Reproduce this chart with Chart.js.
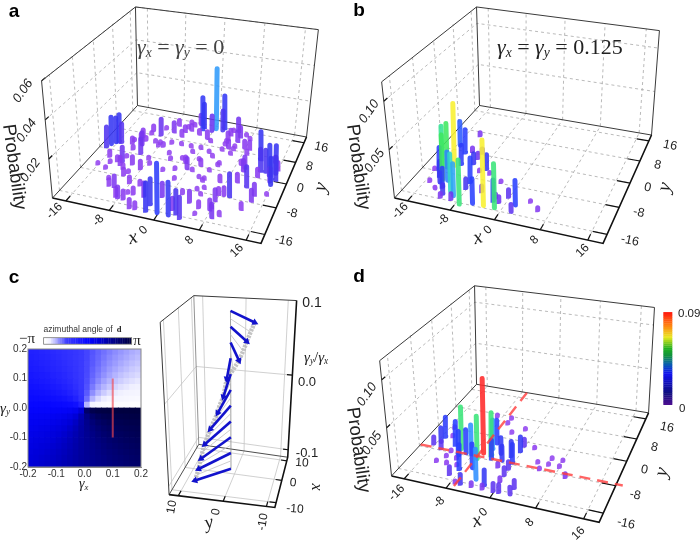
<!DOCTYPE html>
<html>
<head>
<meta charset="utf-8">
<script src="https://cdn.jsdelivr.net/npm/chart.js@4"></script>
<style>
html, body { margin: 0; background: #fff; }
#wrap { position: relative; width: 700px; height: 542px; overflow: hidden; }
canvas { position: absolute; }
</style>
</head>
<body>
<div id="wrap">
<canvas id="main" width="700" height="542" style="left:0;top:0"></canvas>
<canvas id="heat" width="160" height="165" style="left:0;top:335px"></canvas>
</div>
<script>
// tick values
const xyTicks = [-16, -8, 0, 8, 16];
const zTicksA = [0.02, 0.04, 0.06];
const zTicksB = [0.05, 0.10];
const cTicks = [-10, 0, 10];

// bars: [x, y, probability in thousandths]
const barsA = [
  [-17,0,13],[-16.5,1,17.4],[-16,2,16],[-15.5,2.5,17.4],[-15,2.5,12.4],[-16,-6,2],[-15,-3,5],[-14,-7,2.5],[-14,-5,3],[-13,-4,4.3],
  [-12,-5,6],[-12,-4,10],[-12,-2,2.5],[-12,1,3.7],[-13,4,3],[-12,5,5],[-12,6,6],[-10,0,10],[-11,5,3.7],[-11,8,2],
  [-11,9,5],[-9,8,11],[-9,5,3],[-8,5,2.5],[-8,4,2.5],[-9,11,2],[-7,10,7.5],[-7,13,5],[-5,9,5],[-5,11,5],
  [-5,13,2],[-5,15,2],[-4,12,5],[-4,14,3],[-3,15,7.5],[-2,13,20.5],[-2,14,15.5],[0,13,11],[0.6,14,37],[2,14,13.6],
  [2,15,21],[0,10,6],[-2,11,4.3],[1,9,3],[4,11,6],[4,13,5],[4,15,2],[6,11,7.5],[5,15,9.3],[6,13,7.5],
  [7,14,2.5],[8,9,6],[8,13,2],[4,9,2.5],[4,10,3],[9,9,6],[12,6,17],[13,2,13.6],[15,1,18],[16,2,17],
  [14,2,13.6],[15.6,-1,9.3],[15,6,5],[12,-4,12.4],[10,1,7.5],[14,-6,7.5],[13,0,6],[14,-8,7.5],[16,-5,2],[10,-8,13.6],
  [13,-11,5],[9,-8,6],[8,-8,5],[8,-10,7.5],[10,-14,3.7],[8,-12,2],[9,-15,8.7],[6,-13,5],[6,-15,2.5],[4,-12,7.5],
  [4,-17,12.4],[2,-15,7.5],[2,-10,3.7],[2,-17,18.6],[3,-16,13.6],[0,-17,27],[-2,-15,15],[-1,-12,8.7],[-2,-17,16],[-4,-13,8.7],
  [-4,-17,5],[-6,-13,5],[-8,-10,5],[-10,-8,5],[-8,-15,7.5],[-10,-12,7.5],[-12,-10,2.5],[-7,-13,2.5],[-10,-4,6],[-8,-5,6],
  [-8,-1,2],[-7,4,3.7],[-6,6,2],[-4,6,2.5],[-2,6,2],[-5,2,2.5],[-2,1,2.5],[-1,4,2.5],[1,2,2],[2,5,3],
  [0,6,2.5],[5,2,2],[4,-1,2],[4,-4,2],[1,-2,2],[-2,-3,3],[-4,-4,2.5],[-1,-6,2.5],[0,-2,7.5],[6,6,2.5],
  [6,8,2],[9,7,3.7],[6,9,2],[4,7,2],[3,4,2],[3,-4,2.5],[5,-7,2.5],[4,-8,3],[5,-9,2],
  [-11,-12,5],[-8.5,-14.7,6],[-7,-15,6],[-5,-17,6],[-11,-6,4],[-9.5,-7,3],[-11,3,9],[-13,3,5],[-6,-10,4],[-7,-3,3],
  [-4,0,3],[-1,0,5],[2,0,5],[5,1,3],[5,8,6],[4,-5,3],[7,-4,5],[10,2,8],[9,3,4],[10,-3,6],
  [8,-13,7],[16,3.6,6],[16.4,0,14],[16,-2,16]
];
const barsB = [
  [-13,-6,72],[-14,-7,52],[-15,-7,48],[-13,-11,52],[-15,1,32],[-13,-1,30],[-15,-8,28],[-14,-10,20],[-13,-12,15],[-12,-11,35],
  [-10,-14,44],[-9,-15,38],[-7,-17,50],[-3,-16,72],[-1,-16,50],[-5,-16,30],[-2,-14,26],[2,-14,30],[-8,-10,30],[-12,-5,25],
  [-12,-13,24],[-13,6,8],[-12,0,8],[-10,-2,10],[-10,0,9],[-10,-4,15],[-7,-5,20],[-8,-6,5],[-6,-6,4],[-3,-8,5],
  [4,-12,5],[6,-14,7],[-16,-8,4],[-15,-12,5],[-13,-14,6],[-11,-16,8],[-9,-16,10],[-11,-15,14],[-8,-12,14],[0,-12,12],
  [-1,-14,10],[2,-16,12],[-5,-12,10],[-2,-13,8]
];
const barsD = [
  [-6,-7,85],[-10.4,-7,50],[-6.4,-9,50],[-4.4,-7,50],[-15,-4,26],[-15,-6,20],[-16,-7,12],[-12,-6,30],[-10,-9,30],[-9,-8,30],
  [-8,-8,36],[-8,-13,30],[-6,-12,30],[-4,-15,36],[-2,-16,20],[-5,-5,36],[-5,-3,30],[-3,-6,22],[-4,-8,24],[-2,-8,20],
  [-1,-6,20],[0,-8,24],[0,-10,12],[0,-4,20],[0,-2,12],[-14,-8,12],[-15,0,3],[-9,7,3],[-6,5,3],[-6,7,3],
  [-2,4,3],[-4,2,3],[2,-2,5],[-14,-3,3],[-12,-8,4],[-13,-12,5],[-12,-10,5],[-10,-10,5],[-11,-12,5],[-9,-12,5],
  [-9,-15,12],[-7,-17,6],[-6,-17,14],[-4,-17,8],[-2,-17,8],[0,-17,12],[1,-17,12],[0,-14,8],[3,-17,12],[3,-15,12],
  [0,-12,12],[-2,-10,8],[4,-6,3],[5,-8,4],[6,-6,3],[6,-4,3],[8,-4,3],[8,-6,3],[10,-9,8]
];

// panel c: ratio gamma_y/gamma_x and the in-plane vector at each ratio
const ratios = [0.10,0.09,0.08,0.07,0.06,0.05,0.04,0.03,0.02,0.01,0,-0.01,-0.02,-0.03,-0.04,-0.05,-0.06,-0.07,-0.08,-0.09,-0.10];
const vecX = [-8.1,-9,-9.8,-10.6,-11.3,-11.9,-12.4,-12.7,-13,-12.9,-12.8,-12.75,-12.7,-12.5,-12.2,-11.8,-11.3,-10,-8.8,-7.9,-7];
const vecY = [-6.87,-6.2,-5.6,-5,-4.3,-3.2,-2,-1.7,-1.4,-0.6,-0.13,0.7,1.5,2.2,2.9,3.5,4,4.7,5.3,6,6.7];
const originX = -1.4, originY = 0.55;

// heat map: azimuth in degrees (0-360), rows from top, cols from left
const gammaCells = [-0.19,-0.17,-0.15,-0.13,-0.11,-0.09,-0.07,-0.05,-0.03,-0.01,0.01,0.03,0.05,0.07,0.09,0.11,0.13,0.15,0.17,0.19];
const azimuth = [
  [135,132,128,124,120,115,110,105,99,93,87,81,75,70,65,60,56,52,48,45],
  [138,135,131,127,123,118,112,106,100,93,87,80,74,68,62,57,53,49,45,42],
  [142,139,135,131,126,121,115,108,101,94,86,79,72,65,59,54,49,45,41,38],
  [146,143,139,135,130,125,118,111,103,94,86,77,69,62,55,50,45,41,37,34],
  [150,147,144,140,135,129,122,114,105,95,85,75,66,58,51,45,40,36,33,30],
  [155,152,149,145,141,135,128,119,108,96,84,72,61,52,45,39,35,31,28,25],
  [160,158,155,152,148,142,135,126,113,98,82,67,54,45,38,32,28,25,22,20],
  [165,164,162,159,156,151,144,135,121,101,79,59,45,36,29,24,21,18,16,15],
  [171,170,169,167,165,162,157,149,135,108,72,45,31,23,18,15,13,11,10,9],
  [177,177,176,176,175,174,172,169,162,135,45,18,11,8,6,5,4,4,3,3],
  [183,183,184,184,185,186,188,191,198,225,315,342,349,352,354,355,356,356,357,357],
  [189,190,191,193,195,198,203,211,225,252,288,315,329,337,342,345,347,349,350,351],
  [195,196,198,201,204,209,216,225,239,259,281,301,315,324,331,336,339,342,344,345],
  [200,202,205,208,212,218,225,234,247,262,278,293,306,315,322,328,332,335,338,340],
  [205,208,211,215,219,225,232,241,252,264,276,288,299,308,315,321,325,329,332,335],
  [210,213,216,220,225,231,238,246,255,265,275,285,294,302,309,315,320,324,327,330],
  [214,217,221,225,230,235,242,249,257,266,274,283,291,298,305,310,315,319,323,326],
  [218,221,225,229,234,239,245,252,259,266,274,281,288,295,301,306,311,315,319,322],
  [222,225,229,233,237,242,248,254,260,267,273,280,286,292,298,303,307,311,315,318],
  [225,228,232,236,240,245,250,255,261,267,273,279,285,290,295,300,304,308,312,315]
];
const cutGamma = [0.1, -0.1];
const dashX = -7, dashY = -7.5;

// colour maps
const barStops = [[0,'#9a4bf0'],[0.006,'#8a3cf0'],[0.011,'#6a35f0'],[0.015,'#3a35f0'],[0.03,'#2a40ff'],[0.036,'#3090ff'],[0.042,'#30d0e0'],[0.047,'#30e0a0'],[0.052,'#40e860'],[0.062,'#b0f040'],[0.072,'#f8f030'],[0.078,'#ff8030'],[0.082,'#ff3030'],[0.09,'#ff2020']];
const barScaleStops = [[0,'#4a0f90'],[0.12,'#100f80'],[0.33,'#1010f0'],[0.43,'#0a60b0'],[0.52,'#109040'],[0.6,'#20b020'],[0.72,'#e8e820'],[0.85,'#ff8010'],[1,'#ff1010']];
const azimuthStops = [[0,'#ffffff'],[0.06,'#f0f0ff'],[0.125,'#b4b4ff'],[0.25,'#3c3cff'],[0.5,'#0505ff'],[0.625,'#0000d8'],[0.75,'#000098'],[0.875,'#000068'],[1,'#00003c']];

function hexRgb(h) { return [1, 3, 5].map(i => parseInt(h.substr(i, 2), 16)); }
function colorAt(stops, v, alpha) {
  let i = 0;
  while (i < stops.length - 2 && v > stops[i + 1][0]) i++;
  const a = stops[i], b = stops[i + 1];
  const t = Math.max(0, Math.min(1, (v - a[0]) / (b[0] - a[0])));
  const ca = hexRgb(a[1]), cb = hexRgb(b[1]);
  const c = ca.map((q, k) => Math.round(q + (cb[k] - q) * t));
  return `rgba(${c[0]},${c[1]},${c[2]},${alpha === undefined ? 1 : alpha})`;
}

// floor homography + bilinear vertical lift, built from the corners of each box
function makeView(c, tops, zMin, zMax, toUV) {
  const [[x0, y0], [x1, y1], [x2, y2], [x3, y3]] = c;
  const sx = x0 - x1 + x2 - x3, sy = y0 - y1 + y2 - y3;
  const dx1 = x1 - x2, dx2 = x3 - x2, dy1 = y1 - y2, dy2 = y3 - y2;
  const den = dx1 * dy2 - dx2 * dy1;
  const g = (sx * dy2 - dx2 * sy) / den, h = (dx1 * sy - sx * dy1) / den;
  const a = x1 - x0 + g * x1, b = x3 - x0 + h * x3, d = y1 - y0 + g * y1, e = y3 - y0 + h * y3;
  const l0 = [tops[0][0] - x0, tops[0][1] - y0];
  const l3 = [tops[1][0] - x3, tops[1][1] - y3];
  const l2 = [tops[2][0] - x2, tops[2][1] - y2];
  const l1 = [l0[0] + l2[0] - l3[0], l0[1] + l2[1] - l3[1]];
  return function (x, y, z) {
    const [u, v] = toUV(x, y);
    const w = g * u + h * v + 1;
    const f = (z - zMin) / (zMax - zMin);
    const lx = (1 - u) * (1 - v) * l0[0] + u * (1 - v) * l1[0] + u * v * l2[0] + (1 - u) * v * l3[0];
    const ly = (1 - u) * (1 - v) * l0[1] + u * (1 - v) * l1[1] + u * v * l2[1] + (1 - u) * v * l3[1];
    return { x: (a * u + b * v + x0) / w + lx * f, y: (d * u + e * v + y0) / w + ly * f };
  };
}

const LIM = 18.5;
const uvBar = (x, y) => [(x + LIM) / (2 * LIM), (y + LIM) / (2 * LIM)];
const viewA = makeView([[49,197],[260,243],[306,135],[135,103]], [[38,78],[133,3],[318,26]], 0, 0.06, uvBar);
const viewB = makeView([[395,197],[606,243],[655,133],[481,103]], [[382,79],[478,3],[663,27]], 0, 0.12, uvBar);
const viewD = makeView([[392,479],[602,526],[652,415],[478,386]], [[380,362],[476,286],[658,308]], 0, 0.12, uvBar);
const viewC = makeView([[167,498],[274,511],[287,460],[197,447]], [[158,323],[192,296],[296,301]], -0.11, 0.1, (x, y) => [(12 - y) / 24, (x + 12) / 24]);

const datasets = [];
const labels = [];
function line(points, color, width, extra) {
  datasets.push(Object.assign({ type: 'line', data: points, borderColor: color, borderWidth: width, pointRadius: 0, fill: false, tension: 0 }, extra || {}));
}
function label(t, x, y, rot, font, color, align) {
  labels.push({ t, x, y, rot: rot || 0, font, color: color || '#222', align: align || 'center' });
}

const GRID = '#a8a8a8', EDGE = '#3a3a3a', INK = '#111';
const dash = { borderDash: [3, 3] };
const BAR_W = 5;

function drawBox(v, zMax, zTicks, bars, off) {
  const L = LIM;
  xyTicks.forEach(t => {
    line([v(t, -L, 0), v(t, L, 0)], GRID, 0.8, dash);
    line([v(-L, t, 0), v(L, t, 0)], GRID, 0.8, dash);
    line([v(t, L, 0), v(t, L, zMax)], GRID, 0.8, dash);
    line([v(-L, t, 0), v(-L, t, zMax)], GRID, 0.8, dash);
    line([v(t, -L, 0), v(t, -L + 1.6, 0)], INK, 1.2);
    line([v(L, t, 0), v(L - 2.4, t, 0)], INK, 1.2);
  });
  zTicks.forEach(z => {
    line([v(-L, -L, z), v(-L, L, z), v(L, L, z)], GRID, 0.8, dash);
    line([v(-L, -L, z), v(-L, -L + 1.2, z)], INK, 1.2);
  });
  line([v(-L, -L, 0), v(-L, L, 0), v(L, L, 0)], EDGE, 1);
  line([v(-L, L, 0), v(-L, L, zMax)], EDGE, 1);
  line([v(L, L, 0), v(L, L, zMax), v(-L, L, zMax), v(-L, -L, zMax), v(-L, -L, 0)], EDGE, 1);
  line([v(-L, -L, 0), v(L, -L, 0), v(L, L, 0)], INK, 1.6);

  bars.slice().sort((p, q) => (q[1] - q[0]) - (p[1] - p[0])).forEach(b => {
    const p = b[2] / 1000;
    const foot = v(b[0], b[1], 0), head = v(b[0], b[1], p);
    // bars stand almost upright, and the round caps add half a width at each end
    const len = foot.y - head.y;
    const lean = (head.x - foot.x) * 0.35;
    const cut = Math.min(BAR_W / 2, (len - 0.6) / 2);
    const t = cut / len;
    const p0 = { x: foot.x + lean * t, y: foot.y - len * t };
    const p1 = { x: foot.x + lean * (1 - t), y: head.y + len * t };
    line([p0, p1], colorAt(barStops, p, 0.88), BAR_W, { borderCapStyle: 'round' });
  });

  xyTicks.forEach(t => {
    const a = v(t, -L, 0), b = v(L, t, 0);
    label(String(t), a.x - 8, a.y + 11, -45, '12px "Liberation Sans"');
    label(String(t), b.x + 11, b.y + 5, 12, '12.5px "Liberation Sans"', '#222', 'left');
  });
  zTicks.forEach(z => {
    const a = v(-L, -L, z);
    label(z === 0.1 ? '0.10' : String(z), a.x - 15, a.y + 13, -55, 'italic 13px "Liberation Sans"');
  });
  label('Probability', off.px, off.py, 82, '18.5px "Liberation Sans"');
  label('x', off.xx, off.xy, -15, 'italic 20px "Liberation Serif"');
  label('y', off.yx, off.yy, -75, 'italic 20px "Liberation Serif"');
}

drawBox(viewA, 0.06, zTicksA, barsA, { px: 14, py: 167, xx: 133, xy: 238, yx: 321, yy: 187 });
drawBox(viewB, 0.12, zTicksB, barsB, { px: 358, py: 167, xx: 478, xy: 238, yx: 665, yy: 187 });
drawBox(viewD, 0.12, zTicksB, barsD, { px: 358, py: 450, xx: 477, xy: 521, yx: 662, yy: 472 });

// red guide lines of panel d
const redDash = { borderDash: [11, 7] };
line([viewD(-LIM, dashY, 0), viewD(LIM + 1.1, dashY, 0)], 'rgba(255,60,60,0.8)', 2.4, redDash);
line([viewD(dashX, -LIM + 1, 0), viewD(dashX, LIM, 0)], 'rgba(255,60,60,0.8)', 2.4, redDash);

// panel d colour bar
const barScale = [0,0.02,0.04,0.06,0.08,0.1,0.12,0.14,0.16,0.18,0.2,0.22,0.24,0.26,0.28,0.3,0.32,0.34,0.36,0.38,0.4,0.42,0.44,0.46,0.48,0.5,0.52,0.54,0.56,0.58,0.6,0.62,0.64,0.66,0.68,0.7,0.72,0.74,0.76,0.78,0.8,0.82,0.84,0.86,0.88,0.9,0.92,0.94,0.96,0.98];
barScale.forEach(f => {
  const yA = 407 - f * 94;
  line([{ x: 671.5, y: yA }, { x: 671.5, y: yA - 2.2 }], colorAt(barScaleStops, f), 9, { borderCapStyle: 'butt' });
});
label('0.09', 678, 314, 0, '11.5px "Liberation Sans"', '#222', 'left');
label('0', 679, 409, 0, '11.5px "Liberation Sans"', '#222', 'left');

// azimuth colour bar above the heat map
barScale.forEach(f => {
  const xA = 40.5 + f * 88;
  line([{ x: xA, y: 342 }, { x: xA + 2.1, y: 342 }], colorAt(azimuthStops, f), 6, { borderCapStyle: 'butt' });
});
line([{x:40,y:338.6},{x:129,y:338.6},{x:129,y:345.4},{x:40,y:345.4},{x:40,y:338.6}], '#777', 0.8);

// panel c box
(function () {
  const v = viewC, gray = '#c4c4c4', zb = -0.11, zt = 0.1, m = 12;
  cTicks.forEach(t => {
    line([v(t, -m, zb), v(t, m, zb)], gray, 0.8);
    line([v(-m, t, zb), v(m, t, zb)], gray, 0.8);
    line([v(t, m, zb), v(t, m, zt)], gray, 0.8);
    line([v(m, t, zb), v(m, t, zt)], gray, 0.8);
    line([v(t, -m, zb), v(t, -m + 1.6, zb)], INK, 1.2);
    line([v(-m, t, zb), v(-m + 2, t, zb)], INK, 1.2);
  });
  [0, -0.1].forEach(z => {
    line([v(-m, m, z), v(m, m, z), v(m, -m, z)], gray, 0.8);
    line([v(m, -m, z), v(m, -m + 1.4, z)], INK, 1.2);
  });
  line([v(-m, m, zb), v(m, m, zb), v(m, -m, zb)], EDGE, 0.9);
  line([v(m, m, zb), v(m, m, zt)], '#777', 0.8);
  line([v(-m, m, zb), v(-m, m, zt), v(m, m, zt), v(m, -m, zt)], EDGE, 1);
  line([v(-m, m, zb), v(-m, -m, zb), v(m, -m, zb), v(m, -m, zt)], INK, 1.6);
  line([v(originX, originY, 0.1), v(originX, originY, -0.1)], '#8a8a8a', 0.8);

  ratios.forEach((r, i) => line([v(originX, originY, r), v(originX + vecX[i], originY + vecY[i], r)], '#c8c8c8', 0.9));
  line(ratios.map((r, i) => v(originX + vecX[i], originY + vecY[i], r)), 'rgba(185,185,185,0.85)', 4.4, { borderDash: [2.5, 1], borderCapStyle: 'butt' });
  ratios.forEach((r, i) => {
    if (i % 2) return;
    const a = v(originX, originY, r), b = v(originX + vecX[i], originY + vecY[i], r);
    const ang = Math.atan2(b.x - a.x, a.y - b.y) * 180 / Math.PI;
    line([a, b], '#1212cc', 2.6, {
      pointRadius: [0, 4], pointStyle: 'triangle', pointRotation: [0, ang],
      pointBackgroundColor: '#1212cc', pointBorderWidth: 0
    });
  });

  const s = '13px "Liberation Sans"';
  label('0.1', 312, 303, 0, '14px "Liberation Sans"');
  label('0.0', 307, 382, 0, s);
  label('-0.1', 307, 453, 0, s);
  const k = '12px "Liberation Sans"';
  label('10', 302, 463, 4, k);
  label('0', 293, 483, 4, k);
  label('-10', 295, 509, 4, k);
  label('10', 172, 507, -80, k);
  label('0', 216, 512, -80, k);
  label('-10', 263, 522, -80, k);
  label('x', 316, 487, 90, 'italic 16px "Liberation Serif"');
  label('y', 209, 523, -15, 'italic 19px "Liberation Serif"');
})();

// plain labels
const bold = 'bold 19px "Liberation Sans"';
label('a', 14, 12, 0, bold, '#000');
label('b', 359, 11, 0, bold, '#000');
label('c', 14, 278, 0, bold, '#000');
label('d', 359, 277, 0, bold, '#000');
label('azimuthal angle of', 78, 330, 0, '8.5px "Liberation Sans"', '#333');
label('d', 119, 330, 0, 'bold 8.5px "Liberation Serif"', '#222');
label('\u2212\u03c0', 27, 339, 0, '15px "Liberation Serif"');
label('\u03c0', 137, 341, 0, '15px "Liberation Serif"');

// math strings, each piece: [text, kind]
const mathText = [
  { x: 137, y: 48, size: 22, color: '#444', parts: [['\u03b3','i'],['x','s'],[' = ','r'],['\u03b3','i'],['y','s'],[' = 0','r']] },
  { x: 497, y: 48, size: 22, color: '#222', parts: [['\u03b3','i'],['x','s'],[' = ','r'],['\u03b3','i'],['y','s'],[' = 0.125','r']] },
  { x: 304, y: 358, size: 15, color: '#222', parts: [['\u03b3','i'],['y','s'],['/','r'],['\u03b3','i'],['x','s']] },
  { x: 0, y: 409, size: 15, color: '#222', parts: [['\u03b3','i'],['y','s']] },
  { x: 79, y: 484, size: 14, color: '#222', parts: [['\u03b3','i'],['x','s']] }
];

const textPlugin = {
  id: 'texts',
  afterDatasetsDraw(chart) {
    const ctx = chart.ctx;
    ctx.save();
    ctx.textBaseline = 'middle';
    labels.forEach(l => {
      ctx.save();
      ctx.translate(l.x, l.y);
      ctx.rotate(l.rot * Math.PI / 180);
      ctx.font = l.font;
      ctx.fillStyle = l.color;
      ctx.textAlign = l.align;
      ctx.fillText(l.t, 0, 0);
      ctx.restore();
    });
    ctx.textAlign = 'left';
    mathText.forEach(m => {
      let x = m.x;
      ctx.fillStyle = m.color;
      m.parts.forEach(p => {
        const size = p[1] === 's' ? m.size * 0.62 : m.size;
        ctx.font = (p[1] === 'r' ? '' : 'italic ') + size + 'px "Liberation Serif"';
        ctx.fillText(p[0], x, p[1] === 's' ? m.y + m.size * 0.25 : m.y);
        x += ctx.measureText(p[0]).width;
      });
    });
    ctx.restore();
  }
};

// chart.js paints the first dataset last, so flip the painter's order
datasets.reverse();

new Chart(document.getElementById('main'), {
  type: 'scatter',
  data: { datasets },
  options: {
    responsive: false, animation: false, events: [],
    layout: { padding: 0 },
    plugins: { legend: { display: false }, tooltip: { enabled: false } },
    scales: {
      x: { type: 'linear', display: false, min: 0, max: 700 },
      y: { type: 'linear', display: false, min: 0, max: 542, reverse: true }
    }
  },
  plugins: [textPlugin]
});

// heat map on its own real axes
const heatPoints = [], heatColors = [];
azimuth.forEach((row, r) => row.forEach((a, c) => {
  heatPoints.push({ x: gammaCells[c], y: gammaCells[gammaCells.length - 1 - r] });
  heatColors.push(colorAt(azimuthStops, a / 360));
}));
const tickFont = { family: 'Liberation Sans', size: 10 };
new Chart(document.getElementById('heat'), {
  type: 'scatter',
  data: {
    datasets: [
      { type: 'line', data: cutGamma.map(g => ({ x: 0.1, y: g })), borderColor: 'rgba(240,70,80,0.65)', borderWidth: 2, pointRadius: 0 },
      { data: heatPoints, pointStyle: 'rect', pointRadius: 4.7, pointBorderWidth: 0, pointBackgroundColor: heatColors, clip: 0 }
    ]
  },
  options: {
    responsive: false, animation: false, events: [],
    layout: { padding: { top: 14, right: 19, left: 0, bottom: 0 } },
    plugins: { legend: { display: false }, tooltip: { enabled: false } },
    scales: {
      x: {
        type: 'linear', min: -0.2, max: 0.2, grid: { display: false, drawTicks: false }, border: { color: '#888' },
        ticks: { stepSize: 0.1, padding: 1, font: tickFont, color: '#333', maxRotation: 0, callback: v => v.toFixed(1) },
        afterFit(s) { s.height = 33; }
      },
      y: {
        type: 'linear', min: -0.2, max: 0.2, grid: { display: false, drawTicks: false }, border: { color: '#888' },
        ticks: { stepSize: 0.1, padding: 1, font: tickFont, color: '#333', callback: v => v.toFixed(1) },
        afterFit(s) { s.width = 28; }
      }
    }
  },
  plugins: [{
    id: 'frame',
    afterDraw(chart) {
      const a = chart.chartArea, ctx = chart.ctx;
      ctx.save();
      ctx.strokeStyle = '#888';
      ctx.lineWidth = 1;
      ctx.strokeRect(a.left, a.top, a.right - a.left, a.bottom - a.top);
      ctx.restore();
    }
  }]
});
</script>
</body>
</html>
